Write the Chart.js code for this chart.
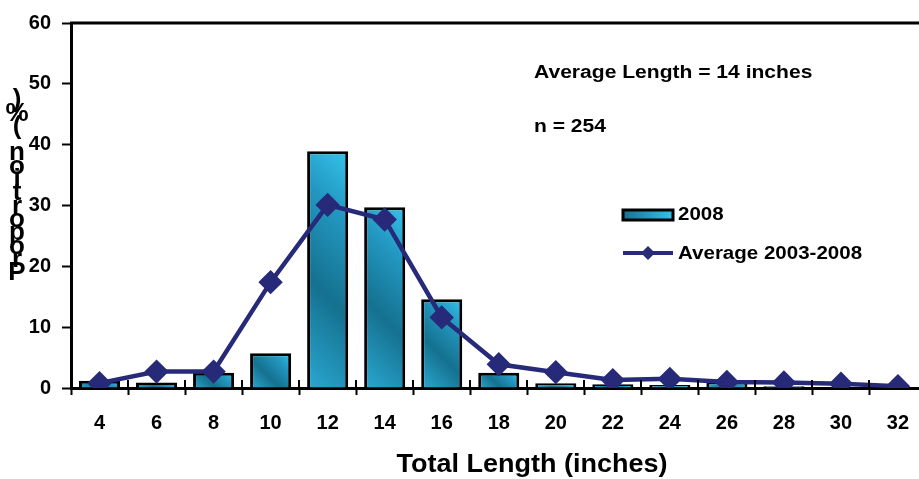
<!DOCTYPE html>
<html>
<head>
<meta charset="utf-8">
<script src="https://cdn.jsdelivr.net/npm/chart.js@4/dist/chart.umd.min.js"></script>
<style>
    html, body { margin: 0; padding: 0; background: #fff; overflow: hidden; }
    #wrap { width: 940px; height: 479px; }
</style>
</head>
<body>
<div id="wrap"><canvas id="lengthChart" width="940" height="479"></canvas></div>
<script>
// length classes (inches)
const lengths = ['4', '6', '8', '10', '12', '14', '16', '18', '20', '22', '24', '26', '28', '30', '32'];
// percent of fish in each class, 2008
const pct2008 = [1.2, 0.9, 2.5, 5.7, 38.9, 29.7, 14.6, 2.5, 0.8, 0.6, 0.5, 1.1, 0.3, 0, 0];
// average 2003-2008
const pctAvg = [0.8, 2.7, 2.7, 17.4, 30.1, 27.7, 11.6, 3.9, 2.6, 1.3, 1.5, 1.0, 0.9, 0.7, 0.3];
const yTicks = [0, 10, 20, 30, 40, 50, 60];

const yTitle = 'Proportion (%)';
const xTitle = 'Total Length (inches)';
const notes = ['Average Length = 14 inches', 'n = 254'];

const navy = '#262a78';
const fam = '"Liberation Sans", Arial, sans-serif';

function barGradient(c) {
    const chart = c.chart;
    if (!chart.chartArea || c.dataIndex === undefined) return '#22a7d0';
    const xs = chart.scales.x, ys = chart.scales.y;
    const cx = xs.getPixelForValue(c.dataIndex);
    const w = xs.width / lengths.length * 0.72;
    const top = ys.getPixelForValue(c.raw || 0);
    const base = ys.getPixelForValue(0);
    const left = cx - w / 2;
    const d = (w + (base - top)) / 2;
    const g = chart.ctx.createLinearGradient(left, base, left + d, base - d);
    g.addColorStop(0, '#2aa8d2');
    g.addColorStop(0.4, '#15718f');
    g.addColorStop(0.75, '#2398c2');
    g.addColorStop(1, '#34c4ec');
    return g;
}

// wide-looking bold text like the original
function wideText(ctx, text, x, y, size, sx, align) {
    ctx.save();
    ctx.font = 'bold ' + size + 'px ' + fam;
    ctx.textAlign = align || 'left';
    ctx.textBaseline = 'middle';
    ctx.translate(x, y);
    ctx.scale(sx, 1);
    ctx.fillText(text, 0, 0);
    ctx.restore();
}

const extras = {
    id: 'extras',
    afterDraw(chart) {
        const ctx = chart.ctx;
        const area = chart.chartArea;
        const xs = chart.scales.x;
        ctx.save();
        ctx.strokeStyle = '#000';
        // top frame line
        ctx.lineWidth = 3;
        ctx.beginPath();
        ctx.moveTo(area.left - 1, area.top);
        ctx.lineTo(area.right, area.top);
        ctx.stroke();
        // x tick marks also poke up into the plot
        ctx.lineWidth = 2;
        const step = xs.width / lengths.length;
        for (let i = 0; i <= lengths.length; i++) {
            const px = Math.round(xs.getPixelForValue(0) - step / 2 + i * step);
            ctx.beginPath();
            ctx.moveTo(px, area.bottom - 8);
            ctx.lineTo(px, area.bottom);
            ctx.stroke();
        }

        ctx.fillStyle = '#000';
        wideText(ctx, notes[0], 534, 73, 18, 1.17);
        wideText(ctx, notes[1], 534, 127, 18, 1.17);

        // legend
        const bx = 623;
        const g = ctx.createLinearGradient(bx, 0, bx + 50, 0);
        g.addColorStop(0, '#16718f');
        g.addColorStop(1, '#34c4ec');
        ctx.fillStyle = g;
        ctx.fillRect(bx, 210, 50, 10);
        ctx.lineWidth = 3;
        ctx.strokeRect(bx, 210, 50, 10);
        ctx.strokeStyle = navy;
        ctx.lineWidth = 4;
        ctx.beginPath();
        ctx.moveTo(bx, 253);
        ctx.lineTo(bx + 50, 253);
        ctx.stroke();
        ctx.fillStyle = navy;
        ctx.beginPath();
        ctx.moveTo(648, 246);
        ctx.lineTo(655, 253);
        ctx.lineTo(648, 260);
        ctx.lineTo(641, 253);
        ctx.closePath();
        ctx.fill();
        ctx.fillStyle = '#000';
        wideText(ctx, chart.data.datasets[0].label, 678, 215, 18, 1.14);
        wideText(ctx, chart.data.datasets[1].label, 678, 254, 18, 1.14);

        // x axis title
        wideText(ctx, xTitle, 532, 465, 25, 1.08, 'center');

        // stacked y axis title, read from bottom up
        ctx.font = 'bold 26px ' + fam;
        ctx.textAlign = 'center';
        ctx.textBaseline = 'middle';
        yTitle.split('').forEach((ch, i) => {
            ctx.fillText(ch, 17, 273 - i * 13.3);
        });
        ctx.restore();
    }
};

new Chart(document.getElementById('lengthChart'), {
    data: {
        labels: lengths,
        datasets: [
            {
                type: 'bar',
                label: '2008',
                data: pct2008,
                backgroundColor: barGradient,
                borderColor: '#000',
                borderWidth: 3,
                barPercentage: 0.72,
                categoryPercentage: 1,
                order: 2
            },
            {
                type: 'line',
                label: 'Average 2003-2008',
                data: pctAvg,
                borderColor: navy,
                backgroundColor: navy,
                borderWidth: 4.5,
                pointStyle: 'rectRot',
                pointRadius: 9,
                pointBackgroundColor: navy,
                pointBorderColor: navy,
                tension: 0,
                order: 1
            }
        ]
    },
    options: {
        responsive: false,
        animation: false,
        layout: { padding: { top: 22, right: 11, left: 0, bottom: 0 } },
        plugins: {
            legend: { display: false },
            tooltip: { enabled: false }
        },
        scales: {
            x: {
                type: 'category',
                offset: true,
                afterFit: (s) => { s.height = 91; },
                border: { display: true, color: '#000', width: 3 },
                grid: { offset: true, drawOnChartArea: false, tickLength: 7, tickColor: '#000', tickWidth: 2 },
                ticks: { color: '#000', font: { family: fam, size: 20, weight: 'bold' }, padding: 16, maxRotation: 0 }
            },
            y: {
                min: 0,
                max: 60,
                afterFit: (s) => { s.width = 71; },
                afterBuildTicks: (s) => { s.ticks = yTicks.map(v => ({ value: v })); },
                border: { display: true, color: '#000', width: 3 },
                grid: { drawOnChartArea: false, tickLength: 9, tickColor: '#000', tickWidth: 2 },
                ticks: { color: '#000', font: { family: fam, size: 20, weight: 'bold' }, padding: 11 }
            }
        }
    },
    plugins: [extras]
});
</script>
</body>
</html>
